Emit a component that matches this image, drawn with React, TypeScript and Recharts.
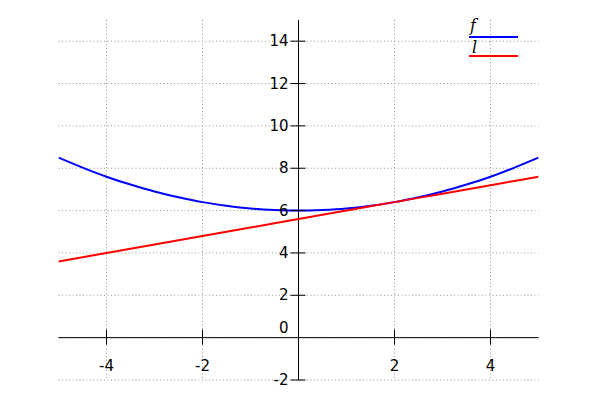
import React from 'react';
import { LineChart, Line, XAxis, YAxis, CartesianGrid, ReferenceLine, Legend } from 'recharts';

const xs = [-5, -4.5, -4, -3.5, -3, -2.5, -2, -1.5, -1, -0.5, 0, 0.5, 1, 1.5, 2, 2.5, 3, 3.5, 4, 4.5, 5];
const fValues = [8.5, 8.03, 7.6, 7.23, 6.9, 6.63, 6.4, 6.23, 6.1, 6.03, 6.0, 6.03, 6.1, 6.23, 6.4, 6.63, 6.9, 7.23, 7.6, 8.03, 8.5];
const lValues = [3.6, 3.8, 4.0, 4.2, 4.4, 4.6, 4.8, 5.0, 5.2, 5.4, 5.6, 5.8, 6.0, 6.2, 6.4, 6.6, 6.8, 7.0, 7.2, 7.4, 7.6];
const xTicks = [-4, -2, 0, 2, 4];
const yTicks = [-2, 0, 2, 4, 6, 8, 10, 12, 14];
const xDomain = [-5, 5];
const yDomain = [-2, 15];

const data = xs.map((x, i) => ({ x, f: fValues[i], l: lValues[i] }));

const W = 600;
const H = 400;
const M = { top: 20, right: 61.5, bottom: 19, left: 57.5 };
const AX_H = 1;
const AX_W = 1;
const plotLeft = M.left + AX_W;
const plotW = W - plotLeft - M.right;
const plotH = H - M.top - M.bottom - AX_H;
const ZERO_X = plotLeft + (plotW * (0 - xDomain[0])) / (xDomain[1] - xDomain[0]);
const ZERO_Y = M.top + (plotH * (yDomain[1] - 0)) / (yDomain[1] - yDomain[0]);

const FONT = '"DejaVu Sans", sans-serif';
const FS = 15;

const XTick = (props: any) => {
  const { x, payload } = props;
  const v = payload.value;
  if (v === 0) return <g />;
  return (
    <g>
      <line x1={x} x2={x} y1={ZERO_Y - 8} y2={ZERO_Y + 7} stroke="#000" strokeWidth={1} />
      <text x={x} y={ZERO_Y + 28} textAnchor="middle" dominantBaseline="central" style={{ fontFamily: FONT, fontSize: FS }} fill="#000">
        {v}
      </text>
    </g>
  );
};

const YTick = (props: any) => {
  const { y, payload } = props;
  const v = payload.value;
  if (v === 0) {
    return (
      <text x={ZERO_X - 10} y={y - 10} textAnchor="end" dominantBaseline="central" style={{ fontFamily: FONT, fontSize: FS }} fill="#000">
        {v}
      </text>
    );
  }
  return (
    <g>
      <line x1={ZERO_X - 8} x2={ZERO_X + 7} y1={y} y2={y} stroke="#000" strokeWidth={1} />
      <text x={ZERO_X - 10} y={y} textAnchor="end" dominantBaseline="central" style={{ fontFamily: FONT, fontSize: FS }} fill="#000">
        {v}
      </text>
    </g>
  );
};

const LegendContent = () => (
  <svg width={60} height={50} style={{ display: 'block' }}>
    <text x={4} y={16} style={{ fontFamily: '"DejaVu Serif", serif', fontStyle: 'italic', fontSize: 16 }} fill="#000">f</text>
    <line x1={3} x2={52} y1={22} y2={22} stroke="#0000ff" strokeWidth={2} />
    <text x={6} y={38} style={{ fontFamily: '"DejaVu Serif", serif', fontStyle: 'italic', fontSize: 16 }} fill="#000">l</text>
    <line x1={3} x2={52} y1={41} y2={41} stroke="#ff0000" strokeWidth={2} />
  </svg>
);

export default function App() {
  return (
    <div style={{ position: 'absolute', left: 0, top: 0, width: W, height: H, background: '#fff' }}>
      <LineChart width={W} height={H} data={data} margin={M}>
        <CartesianGrid
          stroke="#999"
          strokeDasharray="1 2.5"
          strokeWidth={1}
          horizontalValues={yTicks}
          verticalValues={xTicks}
        />
        <XAxis
          dataKey="x"
          type="number"
          domain={xDomain}
          ticks={xTicks}
          interval={0}
          height={AX_H}
          axisLine={false}
          tickLine={false}
          tick={<XTick />}
          allowDataOverflow
        />
        <YAxis
          type="number"
          domain={yDomain}
          ticks={yTicks}
          interval={0}
          width={AX_W}
          axisLine={false}
          tickLine={false}
          tick={<YTick />}
          allowDataOverflow
        />
        <ReferenceLine x={0} stroke="#000" strokeWidth={1} />
        <ReferenceLine y={0} stroke="#000" strokeWidth={1} />
        <Line dataKey="f" type="monotone" stroke="#0000ff" strokeWidth={2} dot={false} isAnimationActive={false} />
        <Line dataKey="l" type="linear" stroke="#ff0000" strokeWidth={2} dot={false} isAnimationActive={false} />
        <Legend
          layout="horizontal"
          verticalAlign="middle"
          align="center"
          content={<LegendContent />}
          wrapperStyle={{ position: 'absolute', left: 466, top: 15, width: 60, height: 50 }}
        />
      </LineChart>
    </div>
  );
}
